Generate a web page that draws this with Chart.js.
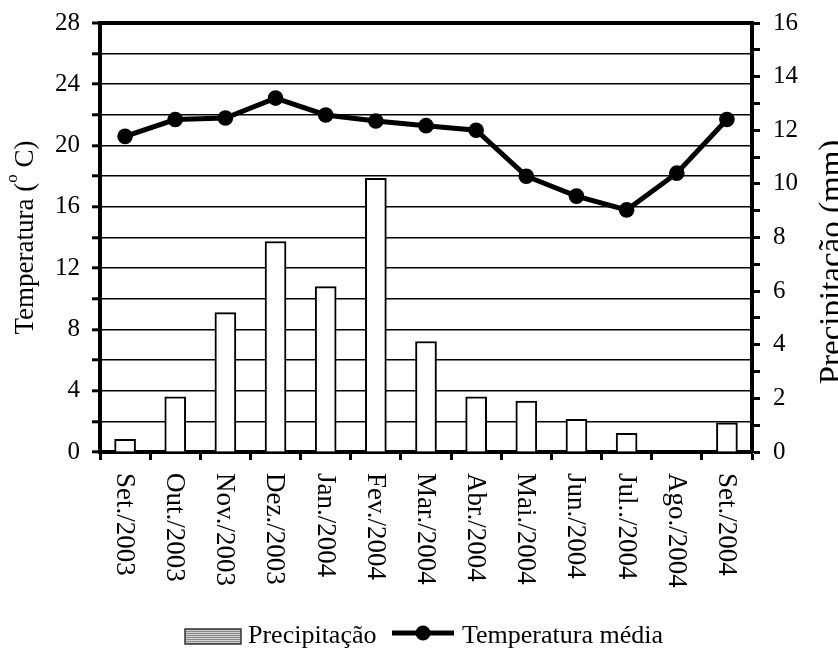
<!DOCTYPE html>
<html><head><meta charset="utf-8">
<script src="https://cdn.jsdelivr.net/npm/chart.js@4/dist/chart.umd.min.js"></script>
<style>html,body{margin:0;padding:0;background:#fff}#wrap{width:838px;height:650px}</style>
</head><body><div id="wrap"><canvas id="c" width="838" height="650"></canvas></div>
<script>
// ---- data ----
const categories = ['Set./2003','Out./2003','Nov./2003','Dez./2003','Jan./2004','Fev./2004','Mar./2004','Abr./2004','Mai./2004','Jun./2004','Jul../2004','Ago./2004','Set./2004'];
const precipitacao = [0.47, 2.06, 5.2, 7.85, 6.17, 10.21, 4.12, 2.06, 1.9, 1.22, 0.7, 0, 1.09];
const temperatura = [20.6, 21.7, 21.8, 23.1, 22.0, 21.6, 21.3, 21.0, 18.0, 16.7, 15.8, 18.2, 21.7];
const seriesNames = ['Precipitação', 'Temperatura média'];
const leftTitle = ['Temperatura (', 'o', ' C)'];
const rightTitle = 'Precipitação (mm)';
const tempRange = [0, 28];
const precRange = [0, 16];

const FONT = '"Liberation Serif", "Times New Roman", serif';

const customText = {
  id: 'customText',
  afterDraw(chart) {
    const ctx = chart.ctx;
    const xs = chart.scales.x;
    ctx.save();
    ctx.fillStyle = '#000';
    // x labels rotated clockwise
    ctx.font = '27px ' + FONT;
    ctx.textAlign = 'left';
    ctx.textBaseline = 'middle';
    categories.forEach((lab, i) => {
      const px = xs.getPixelForTick(i);
      ctx.save();
      ctx.translate(px - 1, xs.top + 21);
      ctx.rotate(Math.PI / 2);
      ctx.fillText(lab, 0, 0);
      ctx.restore();
    });
    // left title with superscript
    ctx.textBaseline = 'alphabetic';
    ctx.font = '27px ' + FONT;
    const w1 = ctx.measureText(leftTitle[0]).width;
    const w3 = ctx.measureText(leftTitle[2]).width;
    ctx.font = '17px ' + FONT;
    const w2 = ctx.measureText(leftTitle[1]).width;
    const tot = w1 + w2 + w3;
    const cy = (chart.chartArea.top + chart.chartArea.bottom) / 2;
    ctx.save();
    ctx.translate(33, cy);
    ctx.rotate(-Math.PI / 2);
    let x0 = -tot / 2;
    ctx.font = '27px ' + FONT;
    ctx.fillText(leftTitle[0], x0, 0);
    ctx.font = '17px ' + FONT;
    ctx.fillText(leftTitle[1], x0 + w1, -16);
    ctx.font = '27px ' + FONT;
    ctx.fillText(leftTitle[2], x0 + w1 + w2, 0);
    ctx.restore();
    // right title
    ctx.save();
    ctx.translate(842, 262);
    ctx.rotate(-Math.PI / 2);
    ctx.font = '33px ' + FONT;
    ctx.textAlign = 'center';
    ctx.fillText(rightTitle, 0, 0);
    ctx.restore();
    // legend
    const ly = 636;
    const bx = 185, bw = 56, bh = 15, by = ly - 7;
    ctx.fillStyle = '#8a8a8a';
    ctx.fillRect(bx, by, bw, bh);
    ctx.fillStyle = '#d0d0d0';
    for (let yy = by + 1; yy < by + bh; yy += 2) ctx.fillRect(bx, yy, bw, 1);
    ctx.strokeStyle = '#333';
    ctx.lineWidth = 1.5;
    ctx.strokeRect(bx, by, bw, bh);
    ctx.fillStyle = '#000';
    ctx.font = '26px ' + FONT;
    ctx.textAlign = 'left';
    ctx.textBaseline = 'alphabetic';
    ctx.fillText(chart.data.datasets[0].label, 248, 643);
    ctx.strokeStyle = '#000';
    ctx.lineWidth = 5;
    ctx.beginPath(); ctx.moveTo(392, 633); ctx.lineTo(454, 633); ctx.stroke();
    ctx.beginPath(); ctx.arc(423, 633, 7.5, 0, Math.PI * 2); ctx.fill();
    ctx.fillText(chart.data.datasets[1].label, 462, 643);
    ctx.restore();
  }
};

new Chart(document.getElementById('c'), {
  type: 'bar',
  data: {
    labels: categories,
    datasets: [
      {
        type: 'bar', label: seriesNames[0], data: precipitacao, yAxisID: 'y1',
        backgroundColor: '#fff', borderColor: '#000', borderWidth: 2,
        barThickness: 21, order: 2
      },
      {
        type: 'line', label: seriesNames[1], data: temperatura, yAxisID: 'y',
        borderColor: '#000', borderWidth: 5, backgroundColor: '#000',
        pointRadius: 7.8, pointBorderWidth: 0, pointBackgroundColor: '#000',
        tension: 0, order: 1
      }
    ]
  },
  options: {
    responsive: false,
    animation: false,
    devicePixelRatio: 1,
    layout: { padding: { top: 23, bottom: 0, left: 0, right: 0 } },
    plugins: { legend: { display: false }, tooltip: { enabled: false } },
    scales: {
      x: {
        z: 1,
        offset: true,
        grid: { offset: true, drawOnChartArea: false, drawTicks: true, tickLength: 8, tickWidth: 3, tickColor: '#000' },
        border: { display: true, width: 4, color: '#000' },
        ticks: { display: false },
        afterFit: s => { s.height = 198; s.paddingLeft = 0; s.paddingRight = 0; }
      },
      y: {
        position: 'left',
        min: tempRange[0], max: tempRange[1],
        ticks: {
          stepSize: 2, autoSkip: false, color: '#000', padding: 12,
          font: { family: FONT, size: 25 },
          callback: v => (v % 4 === 0 ? String(v) : '')
        },
        grid: {
          color: '#000',
          lineWidth: c => (c.tick && c.tick.value === tempRange[1] ? 4 : 1.6),
          tickLength: 8, tickWidth: 3, tickColor: '#000'
        },
        border: { display: true, width: 4, color: '#000' },
        afterFit: s => { s.width = 100; s.paddingTop = 0; s.paddingBottom = 0; }
      },
      y1: {
        position: 'right',
        min: precRange[0], max: precRange[1],
        ticks: {
          stepSize: 1, autoSkip: false, color: '#000', padding: 13,
          font: { family: FONT, size: 25 },
          callback: v => (v % 2 === 0 ? String(v) : '')
        },
        grid: { drawOnChartArea: false, tickLength: 8, tickWidth: 3, tickColor: '#000' },
        border: { display: true, width: 4, color: '#000' },
        afterFit: s => { s.width = 86; s.paddingTop = 0; s.paddingBottom = 0; }
      }
    }
  },
  plugins: [customText]
});
</script>
</body></html>
